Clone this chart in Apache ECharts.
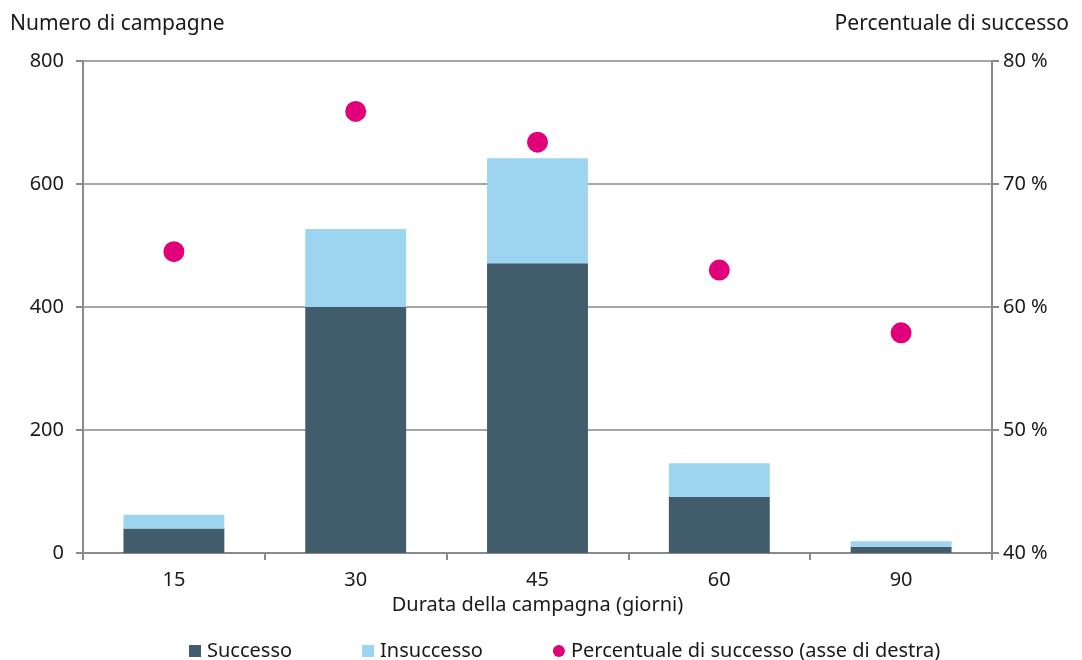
<!DOCTYPE html>
<html>
<head>
<meta charset="utf-8">
<script src="https://cdn.jsdelivr.net/npm/echarts@6/dist/echarts.min.js"></script>
<style>
  html, body { margin: 0; padding: 0; background: #fff; }
  #chart { width: 1082px; height: 660px; }
</style>
</head>
<body>
<div id="chart"></div>
<script>
// Campaign duration categories (days)
const durata = ['15', '30', '45', '60', '90'];
// Number of campaigns by outcome
const successo = [40, 400, 471, 91, 10];
const insuccesso = [22, 127, 171, 55, 9];
// Success rate, right axis (%)
const percentuale = [64.5, 75.9, 73.4, 63.0, 57.9];
// Axis ticks
const leftTicks = [0, 200, 400, 600, 800];
const rightTicks = [40, 50, 60, 70, 80];

const FONT = '"Noto Sans", "Open Sans", sans-serif';
const TXT = '#1a1a1a';
const AXIS = '#8a8a8a';
const FS = 20;

const chart = echarts.init(document.getElementById('chart'), null, { renderer: 'canvas' });

chart.setOption({
  animation: false,
  textStyle: { fontFamily: FONT, color: TXT },
  grid: { left: 83, right: 90, top: 61, bottom: 107, containLabel: false },
  legend: {
    top: 636,
    left: 184,
    itemGap: 70,
    itemWidth: 12,
    itemHeight: 12,
    textStyle: { fontFamily: FONT, fontSize: FS, color: TXT, padding: [0, 0, 0, 1] },
    data: [
      { name: 'Successo', icon: 'rect' },
      { name: 'Insuccesso', icon: 'rect' },
      { name: 'Percentuale di successo (asse di destra)', icon: 'circle' }
    ]
  },
  xAxis: {
    type: 'category',
    data: durata,
    axisLine: { lineStyle: { color: AXIS, width: 2 } },
    axisTick: { show: true, alignWithLabel: false, length: 7, lineStyle: { color: AXIS, width: 2 } },
    axisLabel: { fontFamily: FONT, fontSize: FS, color: TXT, margin: 17 },
    name: 'Durata della campagna (giorni)',
    nameLocation: 'middle',
    nameGap: 42,
    nameTextStyle: { fontFamily: FONT, fontSize: FS, color: TXT }
  },
  yAxis: [
    {
      type: 'value',
      min: leftTicks[0],
      max: leftTicks[leftTicks.length - 1],
      interval: leftTicks[1] - leftTicks[0],
      axisLine: { show: true, lineStyle: { color: AXIS, width: 2 } },
      axisTick: { show: true, length: 7, lineStyle: { color: AXIS, width: 2 } },
      splitLine: { show: true, lineStyle: { color: '#a6a6a6', width: 2 } },
      axisLabel: { fontFamily: FONT, fontSize: FS, color: TXT, margin: 19 }
    },
    {
      type: 'value',
      position: 'right',
      min: rightTicks[0],
      max: rightTicks[rightTicks.length - 1],
      interval: rightTicks[1] - rightTicks[0],
      axisLine: { show: true, lineStyle: { color: AXIS, width: 2 } },
      axisTick: { show: true, length: 7, lineStyle: { color: AXIS, width: 2 } },
      splitLine: { show: false },
      axisLabel: { fontFamily: FONT, fontSize: FS, color: TXT, margin: 11, formatter: '{value} %' }
    }
  ],
  graphic: [
    { type: 'text', left: 10, top: 14, style: { text: 'Numero di campagne', font: '21px ' + FONT, fill: TXT } },
    { type: 'text', right: 13, top: 14, style: { text: 'Percentuale di successo', font: '21px ' + FONT, fill: TXT } }
  ],
  series: [
    {
      name: 'Successo',
      type: 'bar',
      stack: 'n',
      barWidth: '55.5%',
      itemStyle: { color: '#415d6c' },
      data: successo
    },
    {
      name: 'Insuccesso',
      type: 'bar',
      stack: 'n',
      itemStyle: { color: '#9dd4f0' },
      data: insuccesso
    },
    {
      name: 'Percentuale di successo (asse di destra)',
      type: 'scatter',
      yAxisIndex: 1,
      symbol: 'circle',
      symbolSize: 21,
      itemStyle: { color: '#e2007a', opacity: 1 },
      data: percentuale
    }
  ]
});
</script>
</body>
</html>
